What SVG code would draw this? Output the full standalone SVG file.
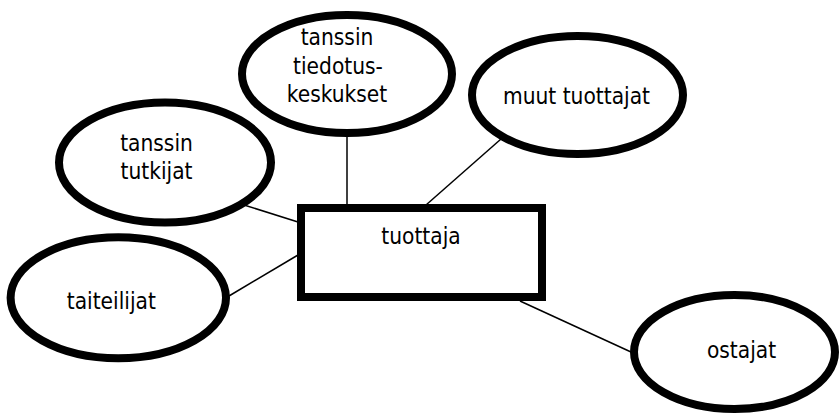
<svg xmlns="http://www.w3.org/2000/svg" width="839" height="415" viewBox="0 0 839 415">
<style>
.node ellipse{fill:#fff;stroke:#000;stroke-width:8}
.node rect{fill:#fff;stroke:#000;stroke-width:8}
.node text{font-family:"DejaVu Sans Condensed","DejaVu Sans",sans-serif;font-stretch:condensed;font-size:22.5px;fill:#000;text-anchor:middle}
#connectors line{stroke:#000;stroke-width:1.5}
</style>
<rect width="839" height="415" fill="#fff"/>
<g id="connectors">
<line x1="347" y1="136" x2="347" y2="205"/>
<line x1="501" y1="139" x2="426" y2="205"/>
<line x1="244" y1="205" x2="298" y2="222"/>
<line x1="229" y1="296" x2="298" y2="255"/>
<line x1="520" y1="301" x2="631" y2="352"/>
</g>
<g id="node-tuottaja" class="node">
<rect x="301" y="208" width="241" height="89"/>
<text x="421" y="244">tuottaja</text>
</g>
<g id="node-tiedotuskeskukset" class="node">
<ellipse cx="347" cy="74" rx="105" ry="59"/>
<text x="337" y="45">tanssin</text>
<text x="338" y="73.5">tiedotus-</text>
<text x="337" y="102">keskukset</text>
</g>
<g id="node-muut" class="node">
<ellipse cx="577.5" cy="95" rx="105.5" ry="59"/>
<text x="576.5" y="104">muut tuottajat</text>
</g>
<g id="node-tutkijat" class="node">
<ellipse cx="165" cy="162.5" rx="106" ry="60"/>
<text x="156.5" y="150.5">tanssin</text>
<text x="156.5" y="179">tutkijat</text>
</g>
<g id="node-taiteilijat" class="node">
<ellipse cx="118.3" cy="297.8" rx="107.7" ry="60.5"/>
<text x="111.3" y="309.3">taiteilijat</text>
</g>
<g id="node-ostajat" class="node">
<ellipse cx="734.5" cy="352" rx="100.5" ry="57"/>
<text x="741.5" y="358.3">ostajat</text>
</g>
</svg>
